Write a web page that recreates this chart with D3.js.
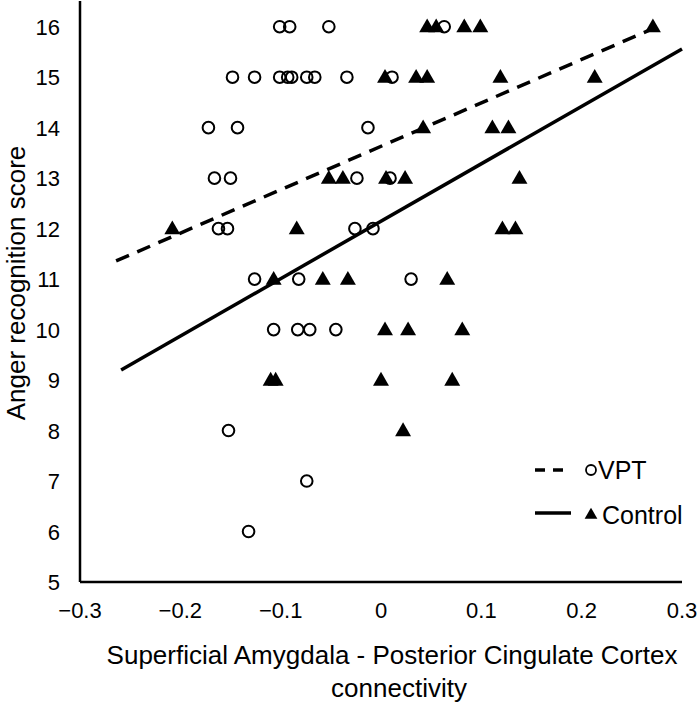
<!DOCTYPE html>
<html><head><meta charset="utf-8">
<script src="https://cdn.jsdelivr.net/npm/d3@7"></script>
<style>body{margin:0;background:#fff}svg{display:block}text{font-family:"Liberation Sans",Arial,sans-serif;fill:#000}</style>
</head><body><svg id="c" width="700" height="702"></svg>
<script>
// VPT group (open circles)
const vptX = [-0.101,-0.091,-0.052,0.063,
  -0.148,-0.126,-0.101,-0.093,-0.089,-0.074,-0.066,-0.034,0.011,
  -0.172,-0.143,-0.013,
  -0.166,-0.150,-0.024,0.009,
  -0.162,-0.153,-0.026,-0.008,
  -0.126,-0.082,0.030,
  -0.107,-0.083,-0.071,-0.045,
  -0.152,-0.074,-0.132];
const vptY = [16,16,16,16,
  15,15,15,15,15,15,15,15,15,
  14,14,14,
  13,13,13,13,
  12,12,12,12,
  11,11,11,
  10,10,10,10,
  8,7,6];
// Control group (filled triangles)
const ctlX = [0.046,0.055,0.083,0.099,0.271,
  0.004,0.035,0.046,0.119,0.213,
  0.042,0.111,0.127,
  -0.052,-0.038,0.005,0.024,0.138,
  -0.208,-0.084,0.121,0.134,
  -0.107,-0.058,-0.033,0.066,
  0.004,0.027,0.081,
  -0.110,-0.105,0.000,0.071,
  0.022];
const ctlY = [16,16,16,16,16,
  15,15,15,15,15,
  14,14,14,
  13,13,13,13,13,
  12,12,12,12,
  11,11,11,11,
  10,10,10,
  9,9,9,9,
  8];
// fitted lines: [x, y] endpoints
const vptFit = [[-0.264, 11.36], [0.272, 15.97]];
const ctlFit = [[-0.259, 9.20], [0.30, 15.56]];
const xTicks = [-0.3,-0.2,-0.1,0,0.1,0.2,0.3];
const yTicks = [5,6,7,8,9,10,11,12,13,14,15,16];

const svg = d3.select("#c");
const x = d3.scaleLinear().domain([-0.3,0.3]).range([80,682]);
const y = d3.scaleLinear().domain([5,16]).range([582,26.7]);

// axes
svg.append("line").attr("x1",x(-0.3)).attr("x2",x(-0.3)).attr("y1",y(5)).attr("y2",1).attr("stroke","#000").attr("stroke-width",2.5);
svg.append("line").attr("x1",x(-0.3)).attr("x2",x(0.3)).attr("y1",y(5)).attr("y2",y(5)).attr("stroke","#000").attr("stroke-width",2.5);

const fmt = d => d===0 ? "0" : d3.format(".1f")(d);
svg.append("g").selectAll("text").data(xTicks).join("text")
  .attr("x",d=>x(d)).attr("y",y(5)+36).attr("text-anchor","middle").attr("font-size",22).text(fmt);
svg.append("g").selectAll("text").data(yTicks).join("text")
  .attr("x",60).attr("y",d=>y(d)+8).attr("text-anchor","end").attr("font-size",22).text(d=>d);

// titles
svg.append("text").attr("x",392).attr("y",664).attr("text-anchor","middle").attr("font-size",26)
  .text("Superficial Amygdala - Posterior Cingulate Cortex");
svg.append("text").attr("x",399).attr("y",697).attr("text-anchor","middle").attr("font-size",26)
  .text("connectivity");
svg.append("text").attr("transform","translate(25,283) rotate(-90)").attr("text-anchor","middle").attr("font-size",26)
  .text("Anger recognition score");

// fit lines
const line = d3.line().x(d=>x(d[0])).y(d=>y(d[1]));
svg.append("path").attr("d",line(vptFit)).attr("fill","none").attr("stroke","#000").attr("stroke-width",3.5).attr("stroke-dasharray","14,9");
svg.append("path").attr("d",line(ctlFit)).attr("fill","none").attr("stroke","#000").attr("stroke-width",3.5);

// points
const tri = d3.symbol().type(d3.symbolTriangle).size(110);
svg.append("g").selectAll("path").data(ctlX.map((v,i)=>[v,ctlY[i]])).join("path")
  .attr("d",tri).attr("transform",d=>`translate(${x(d[0])},${y(d[1])+1})`).attr("fill","#000");
svg.append("g").selectAll("circle").data(vptX.map((v,i)=>[v,vptY[i]])).join("circle")
  .attr("cx",d=>x(d[0])).attr("cy",d=>y(d[1])).attr("r",5.8).attr("fill","none").attr("stroke","#000").attr("stroke-width",2);

// legend
const lg = svg.append("g");
lg.append("line").attr("x1",535).attr("x2",571).attr("y1",470).attr("y2",470).attr("stroke","#000").attr("stroke-width",3.5).attr("stroke-dasharray","10,8");
lg.append("circle").attr("cx",591).attr("cy",470).attr("r",5).attr("fill","none").attr("stroke","#000").attr("stroke-width",1.8);
lg.append("text").attr("x",598).attr("y",479).attr("font-size",25).text("VPT");
lg.append("line").attr("x1",535).attr("x2",571).attr("y1",513).attr("y2",513).attr("stroke","#000").attr("stroke-width",3.5);
lg.append("path").attr("d",d3.symbol().type(d3.symbolTriangle).size(70)).attr("transform","translate(591,515)").attr("fill","#000");
lg.append("text").attr("x",602).attr("y",524).attr("font-size",25).text("Control");
</script></body></html>
